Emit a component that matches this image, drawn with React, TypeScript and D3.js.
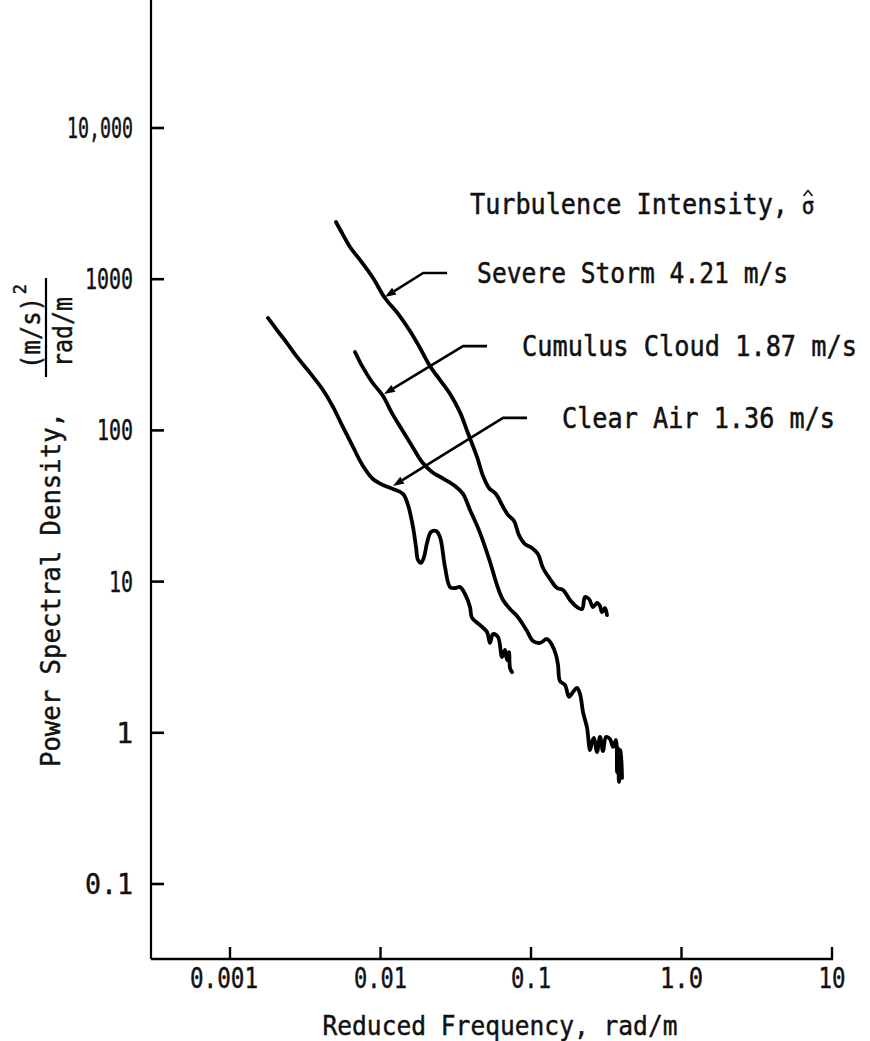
import React from 'react';
import * as d3 from 'd3';

type Pt = [number, number];

const xTicks = [0.001, 0.01, 0.1, 1, 10];
const xTickLabels = ['0.001', '0.01', '0.1', '1.0', '10'];
const yTicks = [0.1, 1, 10, 100, 1000, 10000];
const yTickLabels = ['0.1', '1', '10', '100', '1000', '10,000'];

const severeStorm: Pt[] = [
  [0.00506, 2389], [0.00555, 2021], [0.00627, 1633], [0.00731, 1340], [0.00892, 1018],
  [0.0107, 751], [0.0131, 589], [0.0157, 454], [0.0183, 351], [0.0213, 267],
  [0.0249, 215], [0.029, 174], [0.0337, 132], [0.0381, 96.1], [0.0438, 66.7],
  [0.048, 49.9], [0.0526, 41.6], [0.0585, 38.0], [0.0642, 32.1], [0.0703, 27.6],
  [0.0771, 25.2], [0.0832, 20.3], [0.0912, 17.7], [0.1015, 16.7], [0.1113, 15.2],
  [0.1202, 12.3], [0.1337, 10.4], [0.1489, 9.07], [0.1632, 8.8], [0.1816, 7.56],
  [0.2021, 6.79], [0.2183, 6.59], [0.2285, 7.91], [0.2429, 7.67], [0.2582, 6.79],
  [0.2745, 7.22], [0.2874, 6.9], [0.2963, 6.29], [0.3102, 6.69], [0.3199, 6.01],
];

const cumulusCloud: Pt[] = [
  [0.00677, 330], [0.00754, 267], [0.00878, 209], [0.01039, 169], [0.01192, 130],
  [0.0139, 101], [0.01619, 78.9], [0.01887, 61.8], [0.02199, 53.1], [0.02642, 47.7],
  [0.03126, 42.9], [0.03533, 38.0], [0.03933, 29.8], [0.04583, 21.0], [0.05341, 13.5],
  [0.05944, 9.49], [0.06517, 7.56], [0.07253, 6.59], [0.08073, 5.92], [0.08714, 5.32],
  [0.09407, 4.71], [0.1031, 4.05], [0.1148, 3.93], [0.1277, 4.17], [0.1379, 3.81],
  [0.1466, 3.27], [0.1512, 2.81], [0.1558, 2.2], [0.1682, 2.07], [0.1788, 1.73],
  [0.1902, 1.86], [0.2021, 1.98], [0.2116, 1.81], [0.2216, 1.37], [0.2356, 1.08],
  [0.2466, 0.769], [0.2543, 0.869], [0.2622, 0.924], [0.2745, 0.746], [0.2874, 0.938],
  [0.3009, 0.758], [0.315, 0.938], [0.3349, 0.91], [0.3507, 0.806], [0.3671, 0.896],
  [0.3728, 0.55], [0.3785, 0.793], [0.3843, 0.473], [0.3963, 0.769], [0.4025, 0.503],
];

const clearAir: Pt[] = [
  [0.001788, 554], [0.002053, 461], [0.002392, 378], [0.002788, 306], [0.003401, 240],
  [0.004149, 185], [0.004835, 143], [0.005634, 105], [0.006566, 77.7], [0.007651, 58.2],
  [0.008916, 47.7], [0.01039, 43.5], [0.01211, 41.0], [0.01411, 38.0], [0.01523, 32.1],
  [0.01644, 23.0], [0.01722, 16.9], [0.01775, 13.9], [0.01858, 13.3], [0.01945, 14.5],
  [0.02037, 18.0], [0.02165, 21.3], [0.02338, 21.6], [0.02485, 19.7], [0.02683, 12.5],
  [0.02896, 9.21], [0.03126, 9.07], [0.03375, 9.21], [0.03644, 8.28], [0.03933, 6.79],
  [0.04055, 5.75], [0.04583, 5.16], [0.05101, 4.64], [0.05341, 3.93], [0.05591, 4.5],
  [0.06036, 4.3], [0.06418, 3.17], [0.06717, 3.53], [0.06926, 3.03], [0.07142, 3.42],
  [0.07253, 2.68], [0.07479, 2.52],
];

const seriesList: Pt[][] = [severeStorm, cumulusCloud, clearAir];

const legendTitle = 'Turbulence Intensity, σ̂';
const annotationLabels = ['Severe Storm 4.21 m/s', 'Cumulus Cloud 1.87 m/s', 'Clear Air 1.36 m/s'];
const annotationTips: Pt[] = [[0.0107, 762], [0.01055, 174], [0.01211, 42.9]];
const annotationElbows: Pt[] = [[0.0192, 1099], [0.03533, 361], [0.06517, 121]];
const annotationEnds: Pt[] = [[0.0277, 1099], [0.05101, 361], [0.09407, 121]];
const annotationTextLengths = [311, 335, 273];
const annotationGaps = [30, 35, 35];

const FONT = '"DejaVu Sans Mono", monospace';
const INK = '#111';

const textStyle = {
  fontFamily: FONT,
  fill: INK,
  stroke: INK,
  strokeWidth: 0.45,
} as const;

export default function App() {
  const x = d3.scaleLog().domain([0.001, 10]).range([230, 832]);
  const y = d3.scaleLog().domain([0.1, 10000]).range([884, 128]);

  const axisX = 151;
  const axisBottom = 959;
  const axisRight = 833;

  const line = d3
    .line<Pt>()
    .x((d) => x(d[0]))
    .y((d) => y(d[1]))
    .curve(d3.curveCatmullRom.alpha(0.5));

  const yTickLens = [48, 13, 24, 36, 48, 66];
  const xTickLens = [68, 53, 40, 43, 27];

  const titleBase = legendTitle.replace(/\s*σ̂$/, '');

  return (
    <svg
      width={870}
      height={1041}
      viewBox="0 0 870 1041"
      style={{ position: 'absolute', left: 0, top: 0, background: '#fff' }}
    >
      <rect x={0} y={0} width={870} height={1041} fill="#fff" />
      {/* axes */}
      <line x1={axisX} y1={0} x2={axisX} y2={axisBottom} stroke="#000" strokeWidth={2.2} />
      <line x1={axisX} y1={axisBottom} x2={axisRight} y2={axisBottom} stroke="#000" strokeWidth={2.6} />
      {yTicks.map((t, i) => (
        <g key={'yt' + i}>
          <line x1={axisX} x2={axisX + 13} y1={y(t)} y2={y(t)} stroke="#000" strokeWidth={2.6} />
          <text
            x={133}
            y={y(t) + 10}
            textAnchor="end"
            fontSize={28}
            style={textStyle}
            {...(yTickLabels[i].length > 1
              ? { textLength: yTickLens[i], lengthAdjust: 'spacingAndGlyphs' }
              : {})}
          >
            {yTickLabels[i]}
          </text>
        </g>
      ))}
      {xTicks.map((t, i) => (
        <g key={'xt' + i}>
          <line x1={x(t)} x2={x(t)} y1={axisBottom} y2={axisBottom - 12} stroke="#000" strokeWidth={2.4} />
          <text
            x={x(t) - (i === 0 ? 6 : 0)}
            y={988}
            textAnchor="middle"
            fontSize={28}
            style={textStyle}
            textLength={xTickLens[i]}
            lengthAdjust="spacingAndGlyphs"
          >
            {xTickLabels[i]}
          </text>
        </g>
      ))}

      {/* axis titles */}
      <text
        x={500}
        y={1035}
        textAnchor="middle"
        fontSize={27}
        style={textStyle}
        textLength={355}
        lengthAdjust="spacingAndGlyphs"
      >
        Reduced Frequency, rad/m
      </text>
      <text
        transform="translate(60,767) rotate(-90)"
        fontSize={27}
        style={textStyle}
        textLength={355}
        lengthAdjust="spacingAndGlyphs"
      >
        Power Spectral Density,
      </text>
      <text
        transform="translate(40,333) rotate(-90)"
        textAnchor="middle"
        fontSize={27}
        style={textStyle}
        textLength={72}
        lengthAdjust="spacingAndGlyphs"
      >
        (m/s)
      </text>
      <text
        transform="translate(26,289) rotate(-90)"
        textAnchor="middle"
        fontSize={17}
        style={textStyle}
      >
        2
      </text>
      <line x1={46} x2={46} y1={278} y2={377} stroke="#000" strokeWidth={2.2} />
      <text
        transform="translate(72,332) rotate(-90)"
        textAnchor="middle"
        fontSize={27}
        style={textStyle}
        textLength={70}
        lengthAdjust="spacingAndGlyphs"
      >
        rad/m
      </text>

      {/* curves */}
      {seriesList.map((s, i) => (
        <path
          key={'s' + i}
          d={line(s) || ''}
          fill="none"
          stroke="#000"
          strokeWidth={3.8}
          strokeLinejoin="round"
          strokeLinecap="round"
        />
      ))}

      {/* legend title */}
      <text
        transform="translate(470,214) scale(1,1.1)"
        fontSize={25}
        style={textStyle}
        textLength={318}
        lengthAdjust="spacingAndGlyphs"
      >
        {titleBase}
      </text>
      <text transform="translate(808,214) scale(1,1.1)" textAnchor="middle" fontSize={21} style={textStyle}>
        σ
      </text>
      <path d="M803.5,196 L808,190.5 L812.5,196" fill="none" stroke={INK} strokeWidth={1.6} />

      {/* annotations */}
      {annotationLabels.map((lab, i) => {
        const tx = x(annotationTips[i][0]);
        const ty = y(annotationTips[i][1]);
        const ex = x(annotationElbows[i][0]);
        const ey = y(annotationElbows[i][1]);
        const nx = x(annotationEnds[i][0]);
        const ny = y(annotationEnds[i][1]);
        const ang = Math.atan2(ty - ey, tx - ex);
        const L = 11;
        const Wd = 4;
        const bx = tx - L * Math.cos(ang);
        const by = ty - L * Math.sin(ang);
        const px = -Math.sin(ang) * Wd;
        const py = Math.cos(ang) * Wd;
        return (
          <g key={'a' + i}>
            <polyline
              points={`${bx},${by} ${ex},${ey} ${nx},${ny}`}
              fill="none"
              stroke="#000"
              strokeWidth={2.6}
              strokeLinejoin="round"
            />
            <path d={`M${tx},${ty}L${bx + px},${by + py}L${bx - px},${by - py}Z`} fill="#000" />
            <text
              transform={`translate(${nx + annotationGaps[i]},${ny + 10}) scale(1,1.1)`}
              fontSize={25}
              style={textStyle}
              textLength={annotationTextLengths[i]}
              lengthAdjust="spacingAndGlyphs"
            >
              {lab}
            </text>
          </g>
        );
      })}
    </svg>
  );
}
